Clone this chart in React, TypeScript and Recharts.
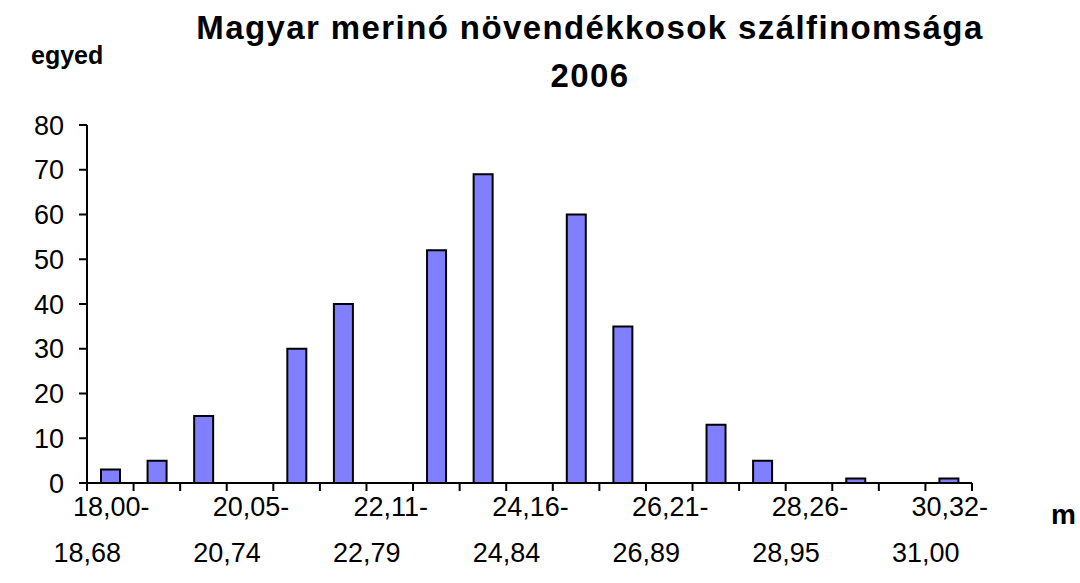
import { BarChart, Bar, XAxis, YAxis } from 'recharts'

const bins = [
  '18,00-18,68', '18,69-19,36', '19,37-20,04', '20,05-20,74', '20,75-21,42',
  '21,43-22,10', '22,11-22,79', '22,80-23,47', '23,48-24,15', '24,16-24,84',
  '24,85-25,52', '25,53-26,20', '26,21-26,89', '26,90-27,57', '27,58-28,25',
  '28,26-28,95', '28,96-29,63', '29,64-30,31', '30,32-31,00',
]
const counts = [3, 5, 15, 0, 30, 40, 0, 52, 69, 0, 60, 35, 0, 13, 5, 0, 1, 0, 1]
const yTicks = [0, 10, 20, 30, 40, 50, 60, 70, 80]

const data = bins.map((bin, i) => ({ bin, egyed: counts[i] }))

const FONT = '"Liberation Sans", Arial, sans-serif'

// category ticks: a tick mark on every bin boundary, a two-line label on every 3rd bin
function BinTick(props: any) {
  const { x, y, payload, index, visibleTicksCount } = props
  const half = payload.offset ?? 0
  const axisY = y - 8
  const [from, to] = String(payload.value).split('-')
  return (
    <g>
      <line x1={x - half} x2={x - half} y1={axisY} y2={y} stroke="#000" strokeWidth={2} />
      {index === visibleTicksCount - 1 && (
        <line x1={x + half} x2={x + half} y1={axisY} y2={y} stroke="#000" strokeWidth={2} />
      )}
      {index % 3 === 0 && (
        <text fontFamily={FONT} fontSize={27} fill="#000" textAnchor="middle">
          <tspan x={x + 1} y={y + 25}>{from + '-'}</tspan>
          <tspan x={x - 23} y={y + 71}>{to}</tspan>
        </text>
      )}
    </g>
  )
}

export default function App() {
  return (
    <div style={{ position: 'absolute', left: 0, top: 0, width: 1080, height: 583, background: '#fff' }}>
      <BarChart width={1080} height={583} data={data} margin={{ top: 125, right: 108, bottom: 0, left: 27 }}>
        <XAxis
          dataKey="bin"
          height={100}
          interval={0}
          tickSize={8}
          tickMargin={0}
          tickLine={false}
          axisLine={{ stroke: '#000', strokeWidth: 2 }}
          tick={<BinTick />}
        />
        <YAxis
          width={60}
          domain={[0, 80]}
          ticks={yTicks}
          interval={0}
          tickSize={8}
          tickMargin={15}
          axisLine={{ stroke: '#000', strokeWidth: 2 }}
          tickLine={{ stroke: '#000', strokeWidth: 2 }}
          tick={{ fill: '#000', fontSize: 27, fontFamily: FONT }}
        />
        <Bar dataKey="egyed" fill="#8080FF" stroke="#000" strokeWidth={2} barSize={19} isAnimationActive={false} />
      </BarChart>
      <svg width={1080} height={583} style={{ position: 'absolute', left: 0, top: 0, pointerEvents: 'none' }}>
        <text x={590} y={39} textAnchor="middle" fontFamily={FONT} fontWeight="bold" fontSize={33} letterSpacing={1.4}>
          Magyar merinó növendékkosok szálfinomsága
        </text>
        <text x={590} y={87} textAnchor="middle" fontFamily={FONT} fontWeight="bold" fontSize={33} letterSpacing={1.4}>
          2006
        </text>
        <text x={31} y={64} fontFamily={FONT} fontWeight="bold" fontSize={25}>egyed</text>
        <text x={1051} y={524} fontFamily={FONT} fontWeight="bold" fontSize={28}>m</text>
      </svg>
    </div>
  )
}
